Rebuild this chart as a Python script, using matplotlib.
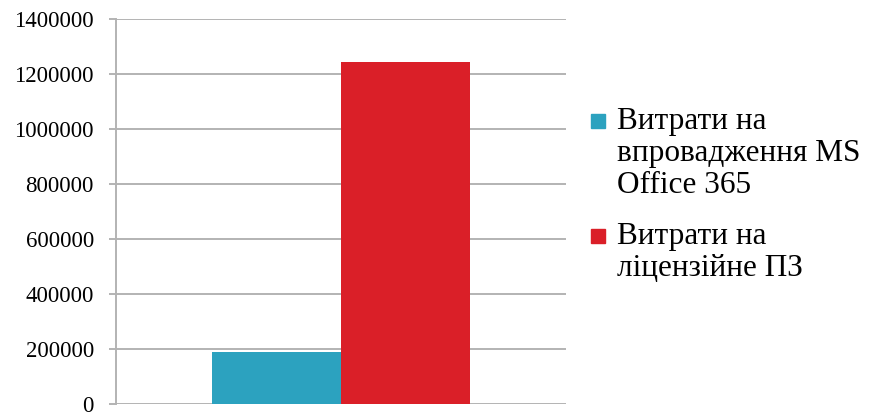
import matplotlib.pyplot as plt
from matplotlib.patches import Rectangle

series_labels = ["Витрати на\nвпровадження MS\nOffice 365", "Витрати на\nліцензійне ПЗ"]
values = [187000, 1243000]
colors = ["#2CA2BF", "#DA1F28"]
y_ticks = [0, 200000, 400000, 600000, 800000, 1000000, 1200000, 1400000]

plt.rcParams["font.family"] = ["Liberation Serif", "DejaVu Serif"]

W, H = 869, 415
fig = plt.figure(figsize=(W / 100, H / 100), dpi=100)
ax = fig.add_axes([116 / W, 1 - 403.5 / H, 450 / W, (403.5 - 19) / H])

width = 1 / 3.5
offsets = [-width / 2, width / 2]
for off, v, c in zip(offsets, values, colors):
    ax.bar(off, v, width=width, color=c, zorder=3)

ax.set_xlim(-0.5, 0.5)
ax.set_ylim(0, 1400000)
ax.set_yticks(y_ticks)
ax.set_yticklabels([str(t) for t in y_ticks], fontsize=16.5)
ax.set_xticks([])

# --- STYLE ---
grid_color = "#b3b3b3"
ax.yaxis.grid(True, color=grid_color, linewidth=1.4, zorder=0)
for s in ["top", "right", "bottom"]:
    ax.spines[s].set_visible(False)
ax.spines["left"].set_color(grid_color)
ax.spines["left"].set_linewidth(1.4)
ax.tick_params(axis="y", length=5, width=1.4, color=grid_color, pad=11)

# legend drawn by hand so the marker sits on the first text line
entry_tops = [112, 227]  # pixel y of entry top
for top, lab, c in zip(entry_tops, series_labels, colors):
    fig.patches.append(Rectangle((591 / W, 1 - (top + 16) / H), 14 / W, 14 / H,
                                 transform=fig.transFigure, color=c))
    fig.text(617 / W, 1 - (top - 5) / H, lab, fontsize=22.5, va="top", ha="left",
             linespacing=1.13)

plt.savefig("out.png", dpi=100)
